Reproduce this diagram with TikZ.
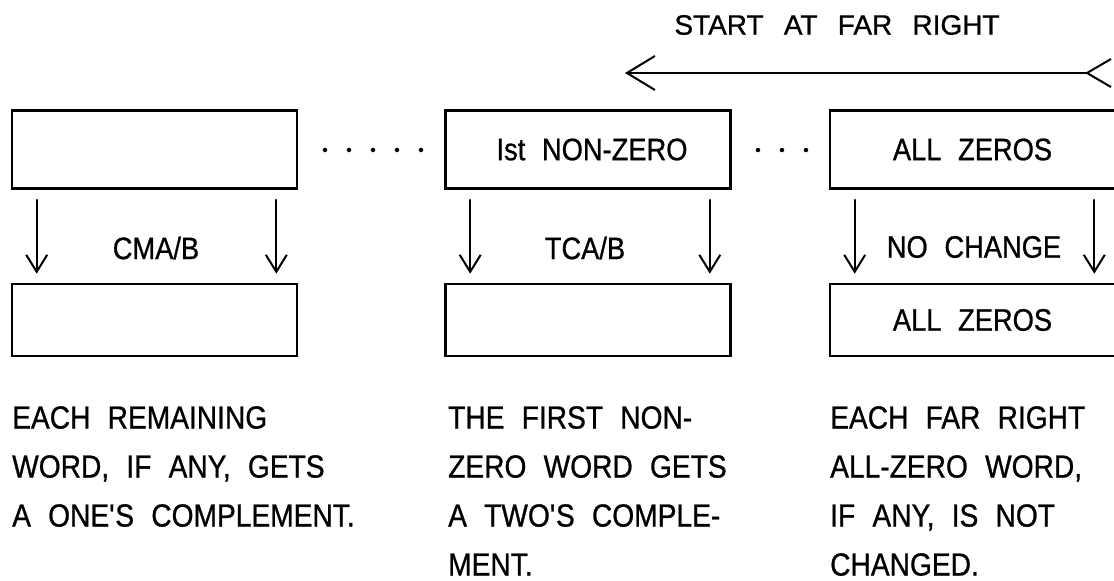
\documentclass[tikz,border=0pt]{standalone}
\usepackage{fontspec}
\setmainfont{Liberation Sans}[FakeStretch=0.88, WordSpace=2.2, FakeBold=0.8]
\newfontfamily\headfont{Liberation Sans}[WordSpace=2.6, FakeBold=0.8]
\usetikzlibrary{arrows.meta,positioning,calc}

\begin{document}
\begin{tikzpicture}[
    x=1pt, y=-1pt,
    wordbox/.style={draw, rectangle, line width=2.6pt, inner sep=0, minimum width=285pt},
    topbox/.style={wordbox, minimum height=78pt},
    botbox/.style={wordbox, minimum height=72pt},
    lbl/.style={inner sep=0, font=\fontsize{31}{31}\selectfont},
    note/.style={inner sep=0, anchor=north west, align=left, font=\fontsize{32}{49}\selectfont},
    down/.style={line width=2pt, line cap=round, -{Straight Barb[length=17pt, width=21pt]}},
    sweep/.style={line width=2pt, line cap=round, {Straight Barb[reversed, length=24pt, width=28pt]}-{Straight Barb[length=28pt, width=34pt]}},
    dot/.style={circle, fill, inner sep=0, minimum size=4.5pt}]
\useasboundingbox (0,0) rectangle (1114,581);

\node[inner sep=0, font=\headfont\fontsize{28}{28}\selectfont] (head) at (837,25) {START AT FAR RIGHT};
\coordinate (sweepR) at (1112,73);
\coordinate (sweepL) at (625,73);
\path[draw, sweep] (sweepR) -- (sweepL);

\node[topbox]      (top1) at (154.5,149.5) {};
\node[topbox, lbl] (top2) at (588,149.5)   {\hspace{8pt}Ist NON-ZERO};
\node[topbox, lbl] (top3) at (972.5,149.5) {ALL ZEROS};
\node[botbox]      (bot1) at (154.5,320)   {};
\node[botbox]      (bot2) at (588,320)     {};
\node[botbox, lbl] (bot3) at (972.5,320)   {ALL ZEROS};

\foreach \n in {1,2,3} {
  \path[draw, down] ([xshift=26pt, yshift=-10pt]top\n.south west) -- ([xshift=26pt, yshift=9pt]bot\n.north west);
  \path[draw, down] ([xshift=-22pt, yshift=-10pt]top\n.south east) -- ([xshift=-22pt, yshift=9pt]bot\n.north east);
}

\node[lbl] (op1) at (156,248) {CMA/B};
\node[lbl] (op2) at (585,248) {TCA/B};
\node[lbl] (op3) at (974,247) {NO CHANGE};

\foreach \x in {325,349,...,421} \node[dot] (gapA\x) at (\x,150) {};
\foreach \x in {758,782,806} \node[dot] (gapB\x) at (\x,150) {};

\node[note] (why1) at (12,406)  {EACH REMAINING\\WORD, IF ANY, GETS\\A ONE\textquotesingle S COMPLEMENT.};
\node[note] (why2) at (448,406) {THE FIRST NON-\\ZERO WORD GETS\\A TWO\textquotesingle S COMPLE-\\MENT.};
\node[note] (why3) at (830,406) {EACH FAR RIGHT\\ALL-ZERO WORD,\\IF ANY, IS NOT\\CHANGED.};

\end{tikzpicture}
\end{document}
